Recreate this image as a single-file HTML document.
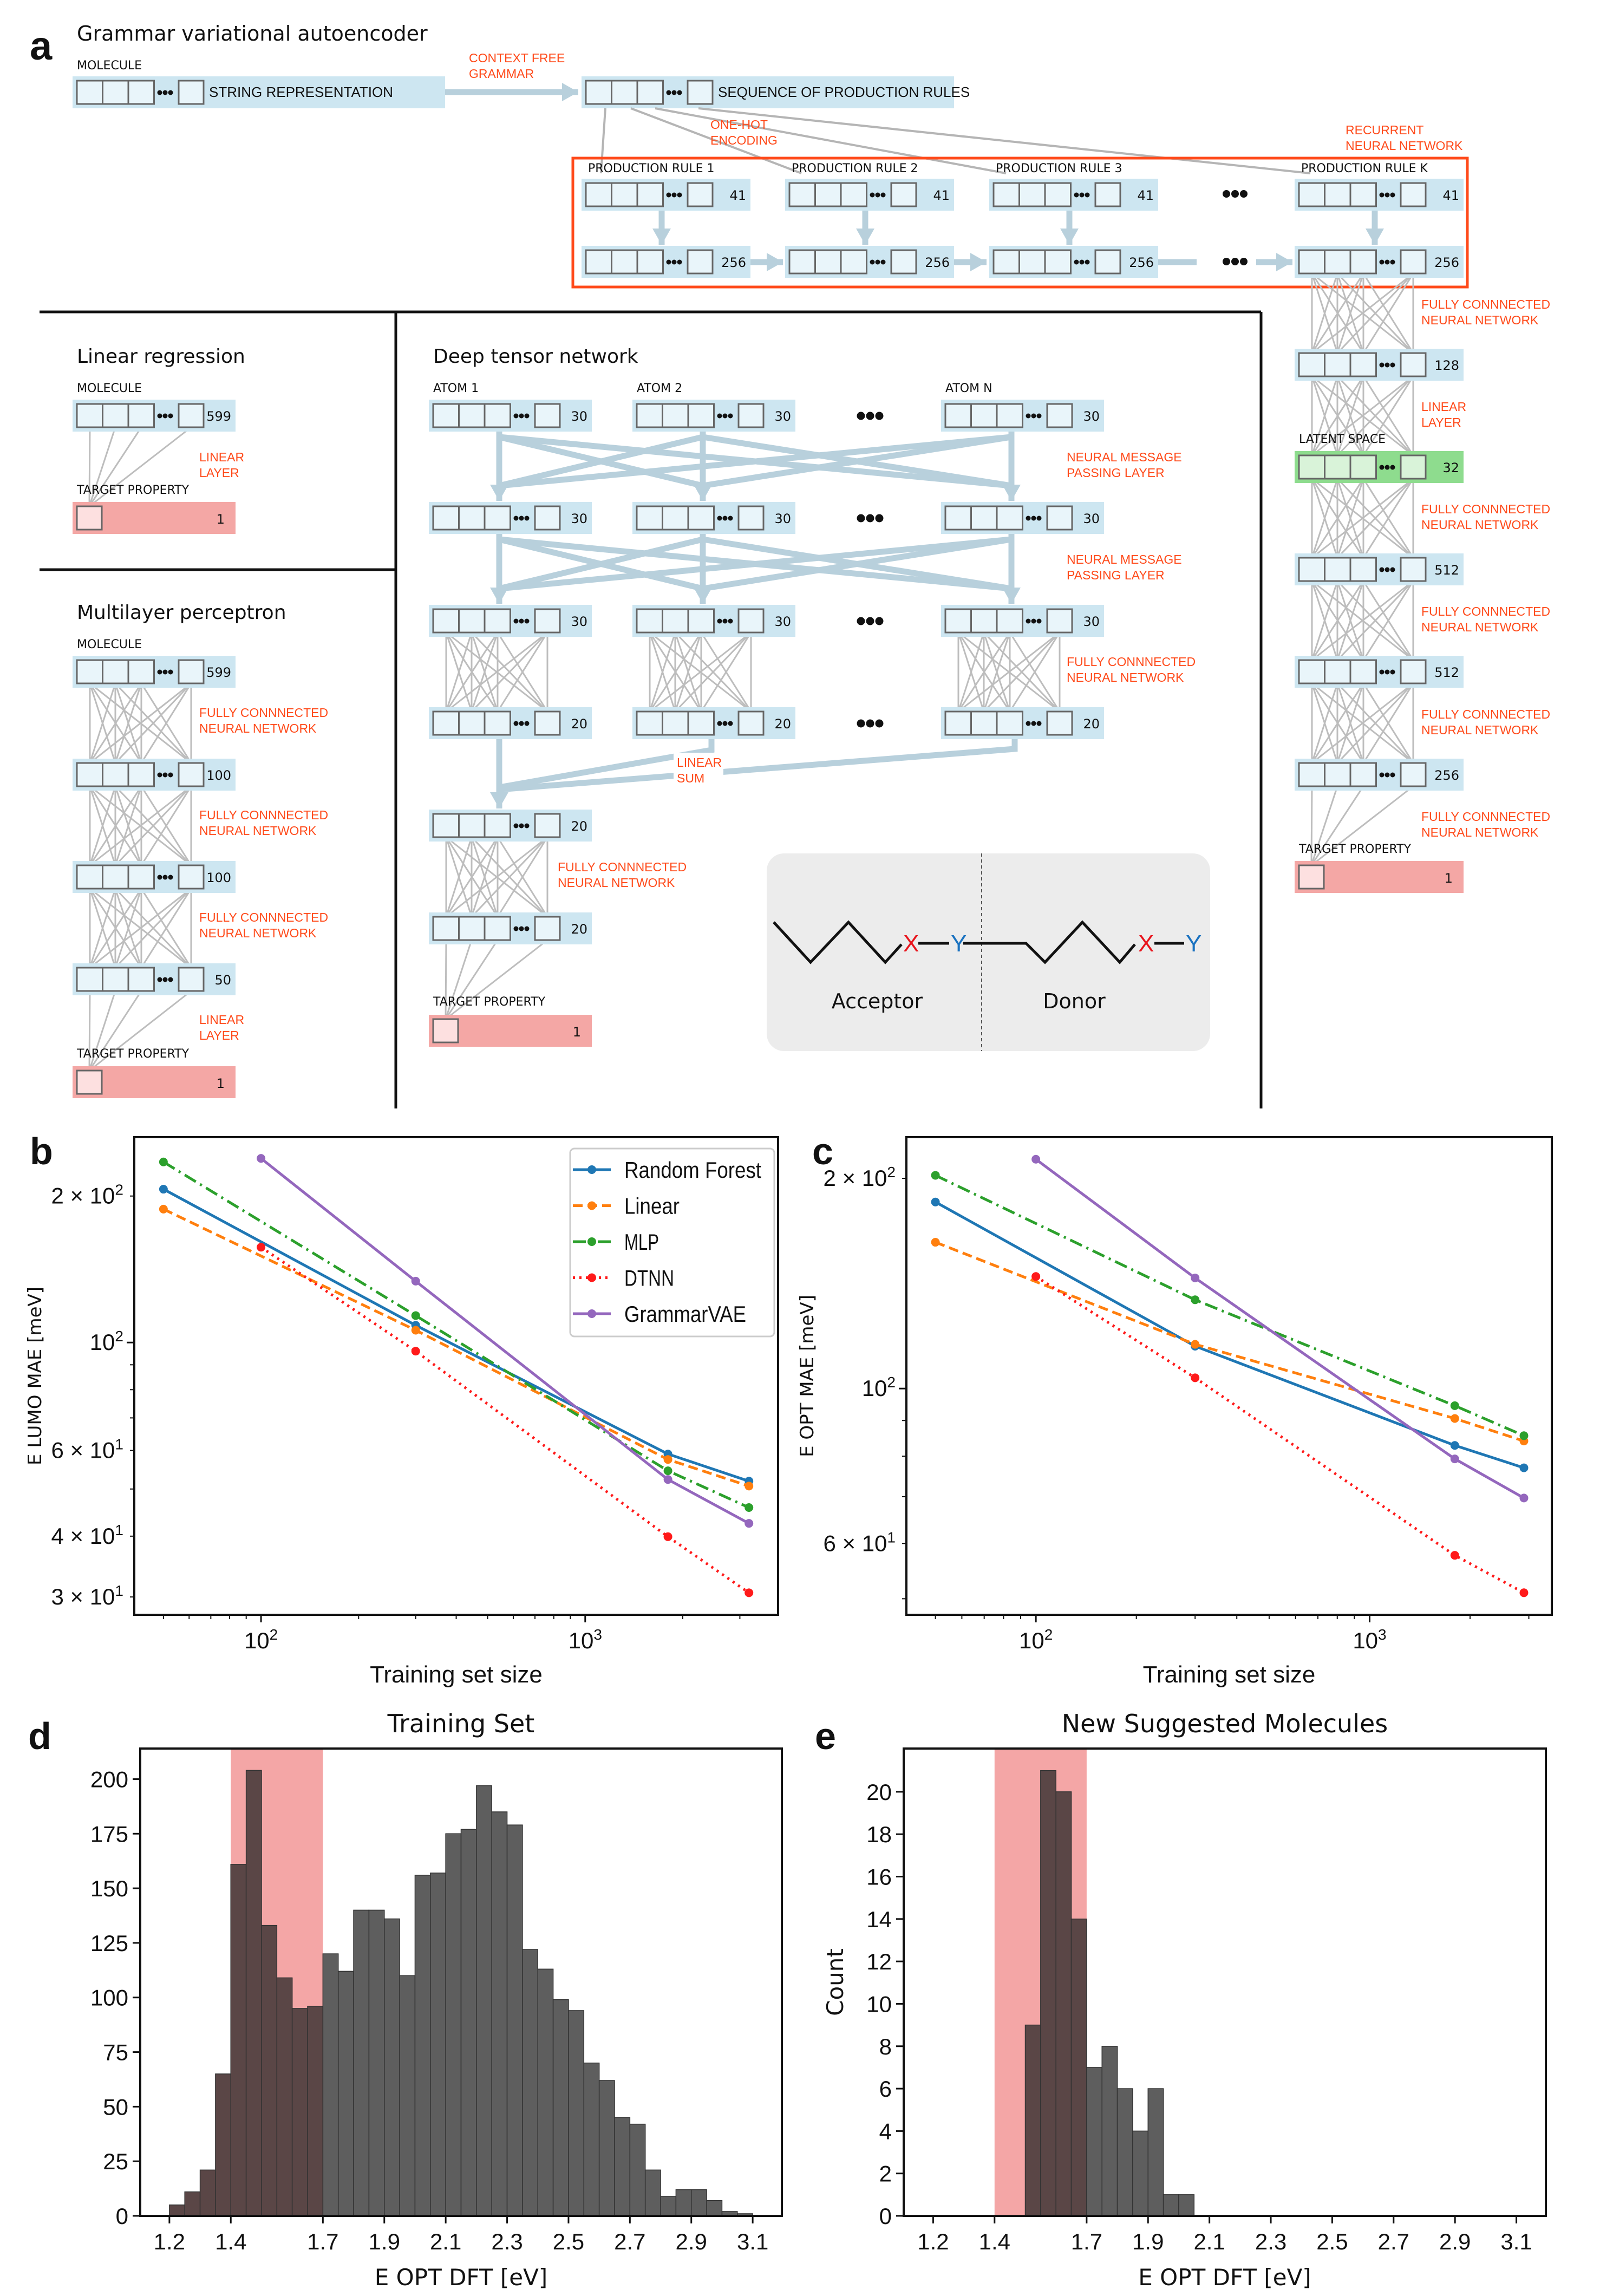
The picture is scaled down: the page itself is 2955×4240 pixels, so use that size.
<!DOCTYPE html>
<html><head><meta charset="utf-8"><style>
html,body{margin:0;padding:0;background:#fff}
svg{display:block}
text{font-family:"Liberation Sans Narrow","Liberation Sans",sans-serif}
</style></head><body>
<svg id="fig" width="2955" height="4240" viewBox="0 0 2955 4240" xmlns="http://www.w3.org/2000/svg"></svg>
<script>
// ---------- chart data ----------
const sizesB=[50,300,1800,3200];
const sizesB2=[100,300,1800,3200];
const bRF=[206.6,108.5,59,51.9];
const bLin=[188,106,57.5,50.7];
const bMLP=[235,113.6,54.5,45.8];
const bDTNN=[157,96,39.9,30.6];
const bGVAE=[239,133.7,52.3,42.5];
const sizesC=[50,300,1800,2900];
const sizesC2=[100,300,1800,2900];
const cRF=[185,115,82.9,77];
const cLin=[162,115.7,90.6,84.1];
const cMLP=[202,134,94.5,85.6];
const cDTNN=[144.7,103.6,57.7,51];
const cGVAE=[213,144,79.3,69.7];
const seriesNames=["Random Forest","Linear","MLP","DTNN","GrammarVAE"];
const histBinStart=1.2;
const histBinWidth=0.05;
const trainCounts=[5,11,21,65,161,204,133,109,95,96,120,112,140,140,136,110,156,157,175,177,197,185,179,122,113,99,94,70,62,45,42,21,9,12,12,7,2,1];
const newStart=1.5;
const newCounts=[9,21,20,14,7,8,6,4,6,1,1];
const histXTicks=[1.2,1.4,1.7,1.9,2.1,2.3,2.5,2.7,2.9,3.1];
const trainYTicks=[0,25,50,75,100,125,150,175,200];
const newYTicks=[0,2,4,6,8,10,12,14,16,18,20];

const NS='http://www.w3.org/2000/svg';
const svg=document.getElementById('fig');
function mk(tag,attrs,parent,name){
  const el=document.createElementNS(NS,tag);
  for(const k in attrs) el.setAttribute(k,attrs[k]);
  
  
  (parent||svg).appendChild(el);
  return el;
}
function txt(x,y,s,size,name,opt){
  opt=opt||{};
  const el=mk('text',{x:x,y:y,'font-size':size,fill:opt.fill||'#111','text-anchor':opt.anchor||'start','font-weight':opt.weight||'normal'},opt.parent||svg,name);
  if(opt.family) el.setAttribute('style','font-family:'+opt.family);
  if(opt.rot) el.setAttribute('transform','rotate(-90 '+x+' '+y+')');
  if(opt.len){el.setAttribute('textLength',opt.len);el.setAttribute('lengthAdjust','spacingAndGlyphs');}
  el.textContent=s;
  return el;
}
const OR='#ff4a1a';
// ---------- panel a helpers ----------
const W=301,H=59;
function layer(x,y,num,kind,w,label){
  w=w||W;
  const bg=kind==='green'?'#8edc8e':kind==='pink'?'#f4a7a5':'#cde6f1';
  const cf=kind==='green'?'#d9f3d9':kind==='pink'?'#fde0e0':'#e9f5fa';
  const g=mk('g',{},svg,'layer-'+num);
  mk('rect',{x:x,y:y,width:w,height:H,fill:bg},g,'layer-background');
  if(kind==='pink'){
    mk('rect',{x:x+8,y:y+8,width:46,height:43,fill:cf,stroke:'#666','stroke-width':3},g,'layer-cell');
    txt(x+w-20,y+40,num,24,'layer-size',{parent:g,anchor:'end',family:'DejaVu Sans'});
    return g;
  }
  for(let i=0;i<3;i++) mk('rect',{x:x+8+i*47.5,y:y+8,width:47.5,height:43,fill:cf,stroke:'#666','stroke-width':3},g,'layer-cell');
  for(let i=0;i<3;i++) mk('circle',{cx:x+161+i*10,cy:y+30,r:4.5,fill:'#111'},g,'layer-dots');
  mk('rect',{x:x+196,y:y+8,width:46,height:43,fill:cf,stroke:'#666','stroke-width':3},g,'layer-cell');
  if(label) txt(x+252,y+38,label,26,'layer-text',{parent:g});
  else txt(x+w-8,y+39,num,24,'layer-size',{parent:g,anchor:'end',family:'DejaVu Sans'});
  return g;
}
const nodes=x=>[x+32,x+79,x+127,x+219];
function fc(x1,y1,x2,y2){
  const g=mk('g',{stroke:'#bdbdbd','stroke-width':3},svg,'fully-connected-links');
  for(const a of nodes(x1)) for(const b of nodes(x2)) mk('line',{x1:a,y1:y1+51,x2:b,y2:y2+8},g,'link');
}
function lin(x1,y1,x2,y2){
  const g=mk('g',{stroke:'#bdbdbd','stroke-width':3},svg,'linear-links');
  for(const a of nodes(x1)) mk('line',{x1:a,y1:y1+51,x2:x2+31,y2:y2+8},g,'link');
}
function thick(pts,arrow,name){
  mk('polyline',{points:pts.map(p=>p.join(',')).join(' '),fill:'none',stroke:'#b8d0dc','stroke-width':11},svg,name);
  if(arrow){
    const [x,y]=pts[pts.length-1],[px,py]=pts[pts.length-2];
    const a=Math.atan2(y-py,x-px),L=30,Wd=17;
    const bx=x-L*Math.cos(a),by=y-L*Math.sin(a);
    mk('polygon',{points:`${x},${y} ${bx-Wd*Math.sin(a)},${by+Wd*Math.cos(a)} ${bx+Wd*Math.sin(a)},${by-Wd*Math.cos(a)}`,fill:'#b8d0dc'},svg,name+'-head');
  }
}
function olab(x,y,l1,l2,size){
  txt(x,y,l1,size||25,'annotation',{fill:OR});
  if(l2) txt(x,y+29,l2,size||25,'annotation',{fill:OR});
}
// ---------- panel a ----------
txt(55,110,'a',74,'panel-a-label',{weight:'bold',family:'Liberation Sans'});
txt(142,75,'Grammar variational autoencoder',38,'gvae-title',{family:'DejaVu Sans'});
txt(142,128,'MOLECULE',22,'molecule-label',{family:'DejaVu Sans'});
layer(134,141,'','blue',688,'STRING REPRESENTATION');
thick([[822,170],[1068,170]],true,'grammar-arrow');
olab(866,115,'CONTEXT FREE','GRAMMAR',23);
layer(1074,141,'','blue',688,'SEQUENCE OF PRODUCTION RULES');
const seqLines=mk('g',{stroke:'#b5b5b5','stroke-width':4},svg,'one-hot-lines');
[[1118,1110],[1165,1480],[1210,1858],[1290,2420]].forEach((p,i)=>mk('line',{x1:p[0],y1:200,x2:p[1],y2:320},seqLines,'encoding-line'));
olab(1312,238,'ONE-HOT','ENCODING',23);
olab(2485,248,'RECURRENT','NEURAL NETWORK',23);
mk('rect',{x:1058,y:292,width:1652,height:238,fill:'none',stroke:OR,'stroke-width':5},svg,'rnn-box');
const prodX=[1074,1450,1827,2391];
const prodLab=['PRODUCTION RULE 1','PRODUCTION RULE 2','PRODUCTION RULE 3','PRODUCTION RULE K'];
prodX.forEach((x,i)=>{
  txt(x+12,318,prodLab[i],22,'production-rule-label',{family:'DejaVu Sans'});
  layer(x,330,'41','blue',312);
  layer(x,454,'256','blue',312);
  thick([[x+148,389],[x+148,452]],true,'rnn-down-arrow');
});
thick([[1386,484],[1446,484]],true,'rnn-arrow');
thick([[1762,484],[1822,484]],true,'rnn-arrow');
thick([[2139,484],[2210,484]],false,'rnn-arrow');
thick([[2320,484],[2387,484]],true,'rnn-arrow');
[[2265,358],[2265,483]].forEach(p=>{for(let i=0;i<3;i++) mk('circle',{cx:p[0]+i*16,cy:p[1],r:7,fill:'#111'},svg,'ellipsis');});
mk('line',{x1:73,y1:576,x2:2329,y2:576,stroke:'#111','stroke-width':5},svg,'separator');
mk('line',{x1:731,y1:576,x2:731,y2:2047,stroke:'#111','stroke-width':5},svg,'separator');
mk('line',{x1:2329,y1:576,x2:2329,y2:2047,stroke:'#111','stroke-width':5},svg,'separator');
mk('line',{x1:73,y1:1052,x2:731,y2:1052,stroke:'#111','stroke-width':5},svg,'separator');
// linear regression
txt(142,670,'Linear regression',36,'linear-regression-title',{family:'DejaVu Sans'});
txt(142,724,'MOLECULE',22,'molecule-label',{family:'DejaVu Sans'});
lin(134,738,134,927);
layer(134,738,'599','blue');
olab(368,852,'LINEAR','LAYER',23);
txt(142,912,'TARGET PROPERTY',22,'target-label',{family:'DejaVu Sans'});
layer(134,927,'1','pink');
// MLP
txt(142,1143,'Multilayer perceptron',36,'mlp-title',{family:'DejaVu Sans'});
txt(142,1197,'MOLECULE',22,'molecule-label',{family:'DejaVu Sans'});
const mlpY=[1211,1401,1590,1779],mlpN=['599','100','100','50'];
for(let i=0;i<3;i++) fc(134,mlpY[i],134,mlpY[i+1]);
lin(134,1779,134,1969);
mlpY.forEach((y,i)=>layer(134,y,mlpN[i],'blue'));
[1324,1513,1702].forEach(y=>olab(368,y,'FULLY CONNNECTED','NEURAL NETWORK',23));
olab(368,1891,'LINEAR','LAYER',23);
txt(142,1953,'TARGET PROPERTY',22,'target-label',{family:'DejaVu Sans'});
layer(134,1969,'1','pink');
// DTN
txt(800,670,'Deep tensor network',36,'dtn-title',{family:'DejaVu Sans'});
const colX=[792,1168,1738],rowY=[738,927,1117,1306],rowN=['30','30','30','20'];
['ATOM 1','ATOM 2','ATOM N'].forEach((s,i)=>txt(colX[i]+8,724,s,22,'atom-label',{family:'DejaVu Sans'}));
for(let r=0;r<2;r++){
  const y1=rowY[r]+59,y2=rowY[r+1];
  colX.forEach(a=>colX.forEach(b=>{
    if(a===b) thick([[a+130,y1],[a+130,y2-2]],true,'message-arrow');
    else thick([[a+130,y1+10],[b+130,y2-30]],false,'message-link');
  }));
}
colX.forEach(x=>fc(x,rowY[2],x,rowY[3]));
rowY.forEach((y,r)=>{colX.forEach(x=>layer(x,y,rowN[r],'blue'));for(let i=0;i<3;i++) mk('circle',{cx:1590+i*17,cy:y+30,r:7.5,fill:'#111'},svg,'ellipsis');});
olab(1970,852,'NEURAL MESSAGE','PASSING LAYER',23);
olab(1970,1041,'NEURAL MESSAGE','PASSING LAYER',23);
olab(1970,1230,'FULLY CONNNECTED','NEURAL NETWORK',23);
thick([[922,1365],[922,1493]],true,'sum-arrow');
thick([[1314,1365],[1314,1385],[922,1454]],false,'sum-link');
thick([[1874,1365],[1874,1383],[922,1458]],false,'sum-link');
mk('rect',{x:1244,y:1390,width:92,height:62,fill:'#fff'},svg,'sum-label-bg');
olab(1250,1416,'LINEAR','SUM',23);
fc(792,1495,792,1685);
lin(792,1685,792,1874);
layer(792,1495,'20','blue');
layer(792,1685,'20','blue');
olab(1030,1609,'FULLY CONNNECTED','NEURAL NETWORK',23);
txt(800,1857,'TARGET PROPERTY',22,'target-label',{family:'DejaVu Sans'});
layer(792,1874,'1','pink');
// acceptor / donor inset
mk('rect',{x:1416,y:1576,width:819,height:365,rx:32,fill:'#ececec'},svg,'molecule-inset');
mk('line',{x1:1813,y1:1576,x2:1813,y2:1941,stroke:'#555','stroke-width':2,'stroke-dasharray':'6,5'},svg,'inset-divider');
mk('polyline',{points:'1429,1703 1497,1777 1567,1703 1635,1777 1665,1744',fill:'none',stroke:'#111','stroke-width':5},svg,'acceptor-chain');
mk('line',{x1:1696,y1:1742,x2:1753,y2:1742,stroke:'#111','stroke-width':5},svg,'bond');
mk('polyline',{points:'1779,1742 1895,1742 1930,1777 1999,1703 2068,1777 2096,1744',fill:'none',stroke:'#111','stroke-width':5},svg,'donor-chain');
mk('line',{x1:2132,y1:1742,x2:2187,y2:1742,stroke:'#111','stroke-width':5},svg,'bond');
txt(1668,1757,'X',44,'atom-x',{fill:'#e8141c',family:'Liberation Sans'});
txt(1756,1757,'Y',44,'atom-y',{fill:'#1a72c0',family:'Liberation Sans'});
txt(2102,1757,'X',44,'atom-x',{fill:'#e8141c',family:'Liberation Sans'});
txt(2190,1757,'Y',44,'atom-y',{fill:'#1a72c0',family:'Liberation Sans'});
txt(1620,1862,'Acceptor',38,'acceptor-label',{anchor:'middle',family:'DejaVu Sans'});
txt(1984,1862,'Donor',38,'donor-label',{anchor:'middle',family:'DejaVu Sans'});
// right column (decoder)
const rx=2391,ry=[454,644,833,1022,1211,1401],rn=['256','128','32','512','512','256'];
for(let i=0;i<5;i++) fc(rx,ry[i],rx,ry[i+1]);
lin(rx,1401,rx,1590);
ry.forEach((y,i)=>{ if(i>0) layer(rx,y,rn[i],i===2?'green':'blue',312); });
layer(rx,454,'256','blue',312);
txt(rx+8,818,'LATENT SPACE',22,'latent-label',{family:'DejaVu Sans'});
txt(rx+8,1575,'TARGET PROPERTY',22,'target-label',{family:'DejaVu Sans'});
layer(rx,1590,'1','pink',312);
[[2625,570,'FULLY CONNNECTED','NEURAL NETWORK'],[2625,759,'LINEAR','LAYER'],[2625,948,'FULLY CONNNECTED','NEURAL NETWORK'],[2625,1137,'FULLY CONNNECTED','NEURAL NETWORK'],[2625,1327,'FULLY CONNNECTED','NEURAL NETWORK'],[2625,1516,'FULLY CONNNECTED','NEURAL NETWORK']].forEach(p=>olab(p[0],p[1],p[2],p[3],23));

// ---------- log-log charts ----------
const colors=['#1f77b4','#ff7f0e','#2ca02c','#ff1a1a','#9467bd'];
const dashes=['none','18,9','24,9,4,9','4,8','none'];
const legendLens=[253,102,64,92,225];
function logChart(name,box,xlim,ylim,series,xs,xs2,yticksLab,ylabel,letterX,legend){
  const g=mk('g',{},svg,name);
  const X=v=>box.x0+(Math.log10(v)-xlim[0])/(xlim[1]-xlim[0])*(box.x1-box.x0);
  const Y=v=>box.y1-(Math.log10(v)-ylim[0])/(ylim[1]-ylim[0])*(box.y1-box.y0);
  for(let d=1;d<=4;d++) for(let m=1;m<10;m++){
    const v=m*Math.pow(10,d); const lv=Math.log10(v);
    if(lv<xlim[0]||lv>xlim[1]) continue;
    const major=m===1;
    mk('line',{x1:X(v),y1:box.y1,x2:X(v),y2:box.y1+(major?14:8),stroke:'#111','stroke-width':major?3:2},g,'x-tick');
    if(major){const t=txt(X(v),box.y1+62,'10',42,'x-tick-label',{anchor:'middle',parent:g});const s=mk('tspan',{dy:-16,'font-size':28},t,'exponent');s.textContent=String(d);}
  }
  for(let d=1;d<=3;d++) for(let m=1;m<10;m++){
    const v=m*Math.pow(10,d); const lv=Math.log10(v);
    if(lv<ylim[0]||lv>ylim[1]) continue;
    mk('line',{x1:box.x0,y1:Y(v),x2:box.x0-(m===1?14:8),y2:Y(v),stroke:'#111','stroke-width':m===1?3:2},g,'y-tick');
  }
  yticksLab.forEach(t=>{
    const el=txt(box.x0-20,Y(t[0])+14,t[1],42,'y-tick-label',{anchor:'end',parent:g});
    const s=mk('tspan',{dy:-16,'font-size':28},el,'exponent');s.textContent=t[2];
  });
  txt(box.x0-172,(box.y0+box.y1)/2,ylabel,34,'y-axis-title',{anchor:'middle',rot:true,parent:g,family:'DejaVu Sans'});
  txt((box.x0+box.x1)/2,box.y1+125,'Training set size',44,'x-axis-title',{anchor:'middle',parent:g});
  series.forEach((s,i)=>{
    const xx=(i>=3)?xs2:xs;
    const pts=s.map((v,j)=>X(xx[j]).toFixed(1)+','+Y(v).toFixed(1)).join(' ');
    const line=mk('polyline',{points:pts,fill:'none',stroke:colors[i],'stroke-width':5},g,'series-'+seriesNames[i].toLowerCase().replace(' ','-'));
    if(dashes[i]!=='none') line.setAttribute('stroke-dasharray',dashes[i]);
    s.forEach((v,j)=>mk('circle',{cx:X(xx[j]),cy:Y(v),r:8,fill:colors[i]},g,'data-point'));
  });
  mk('rect',{x:box.x0,y:box.y0,width:box.x1-box.x0,height:box.y1-box.y0,fill:'none',stroke:'#111','stroke-width':4},g,'plot-frame');
  txt(letterX,box.y0+50,name==='chart-b'?'b':'c',70,'panel-label',{weight:'bold',family:'Liberation Sans'});
  if(legend){
    const lg=mk('g',{},g,'legend');
    mk('rect',{x:1053,y:2121,width:377,height:347,rx:8,fill:'#fff',stroke:'#ccc','stroke-width':3},lg,'legend-box');
    seriesNames.forEach((n,i)=>{
      const y=2160+i*66.5;
      const l=mk('line',{x1:1058,y1:y,x2:1128,y2:y,stroke:colors[i],'stroke-width':5},lg,'legend-line');
      if(dashes[i]!=='none') l.setAttribute('stroke-dasharray',dashes[i]);
      mk('circle',{cx:1093,cy:y,r:8,fill:colors[i]},lg,'legend-marker');
      txt(1153,y+15,n,42,'legend-entry',{parent:lg,len:legendLens[i]});
    });
  }
}
logChart('chart-b',{x0:248,x1:1437,y0:2100,y1:2982},[1.609,3.595],[1.4405,2.422],[bRF,bLin,bMLP,bDTNN,bGVAE],sizesB,sizesB2,
  [[200,'2 × 10','2'],[100,'10','2'],[60,'6 × 10','1'],[40,'4 × 10','1'],[30,'3 × 10','1']],'E LUMO MAE [meV]',55,true);
logChart('chart-c',{x0:1674,x1:2866,y0:2100,y1:2982},[1.612,3.546],[1.676,2.360],[cRF,cLin,cMLP,cDTNN,cGVAE],sizesC,sizesC2,
  [[200,'2 × 10','2'],[100,'10','2'],[60,'6 × 10','1']],'E OPT MAE [meV]',1500,false);

// ---------- histograms ----------
function hist(name,box,xlim,ymax,start,counts,yticks,title,letter,letterX,ylab){
  const g=mk('g',{},svg,name);
  const X=v=>box.x0+(v-xlim[0])/(xlim[1]-xlim[0])*(box.x1-box.x0);
  const Y=v=>box.y1-v/ymax*(box.y1-box.y0);
  mk('rect',{x:X(1.4),y:box.y0,width:X(1.7)-X(1.4),height:box.y1-box.y0,fill:'#f4a6a6'},g,'target-range-band');
  counts.forEach((c,i)=>{
    const x0=X(start+i*histBinWidth),x1=X(start+(i+1)*histBinWidth);
    const inBand=(start+i*histBinWidth)<1.699;
    mk('rect',{x:x0,y:Y(c),width:x1-x0,height:Y(0)-Y(c),fill:inBand?'#5a4646':'#5e5e5e',stroke:'#333','stroke-width':1.5},g,'histogram-bar');
  });
  mk('rect',{x:box.x0,y:box.y0,width:box.x1-box.x0,height:box.y1-box.y0,fill:'none',stroke:'#111','stroke-width':4},g,'plot-frame');
  histXTicks.forEach(t=>{
    mk('line',{x1:X(t),y1:box.y1,x2:X(t),y2:box.y1+14,stroke:'#111','stroke-width':3},g,'x-tick');
    txt(X(t),box.y1+62,t.toFixed(1),42,'x-tick-label',{anchor:'middle',parent:g});
  });
  yticks.forEach(t=>{
    mk('line',{x1:box.x0,y1:Y(t),x2:box.x0-14,y2:Y(t),stroke:'#111','stroke-width':3},g,'y-tick');
    txt(box.x0-22,Y(t)+15,String(t),42,'y-tick-label',{anchor:'end',parent:g});
  });
  txt((box.x0+box.x1)/2,box.y0-30,title,46,'chart-title',{anchor:'middle',parent:g,family:'DejaVu Sans'});
  txt((box.x0+box.x1)/2,box.y1+128,'E OPT DFT [eV]',42,'x-axis-title',{anchor:'middle',parent:g,family:'DejaVu Sans'});
  if(ylab) txt(box.x0-112,(box.y0+box.y1)/2,ylab,42,'y-axis-title',{anchor:'middle',rot:true,parent:g,family:'DejaVu Sans'});
  txt(letterX,3230,letter,70,'panel-label',{weight:'bold',family:'Liberation Sans'});
}
hist('chart-d',{x0:259,x1:1444,y0:3229,y1:4092},[1.105,3.195],214,histBinStart,trainCounts,trainYTicks,'Training Set','d',52,null);
hist('chart-e',{x0:1669,x1:2855,y0:3229,y1:4092},[1.104,3.196],22.04,newStart,newCounts,newYTicks,'New Suggested Molecules','e',1505,'Count');
</script>
</body></html>
